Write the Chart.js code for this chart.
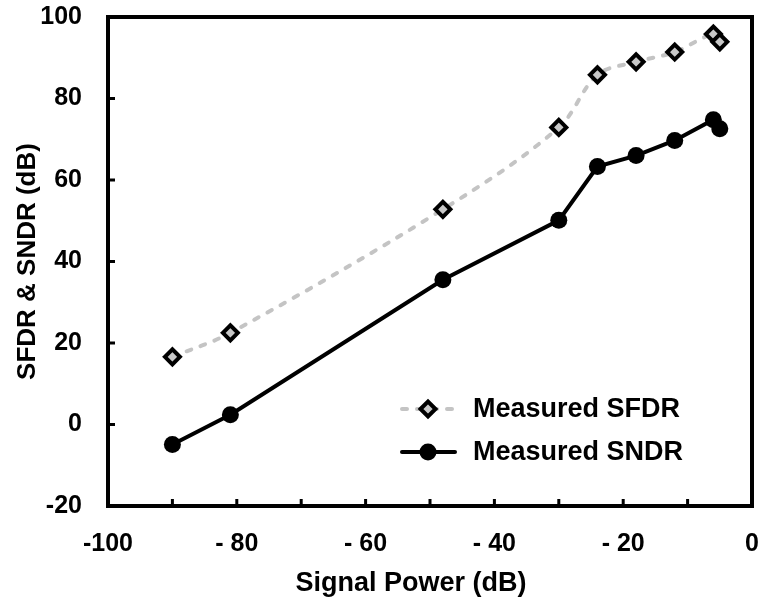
<!DOCTYPE html>
<html>
<head>
<meta charset="utf-8">
<script src="https://cdn.jsdelivr.net/npm/chart.js@4.4.1/dist/chart.umd.min.js"></script>
<style>
  body { margin: 0; background: #fff; }
  #wrap { width: 764px; height: 600px; }
</style>
</head>
<body>
<div id="wrap"><canvas id="snr-chart" width="764" height="600"></canvas></div>
<script>
// values
var signalPower = [-90, -81, -48, -30, -24, -18, -12, -6, -5];
var sfdrValues = [16.6, 22.5, 52.8, 72.9, 85.8, 89.0, 91.4, 95.8, 93.9];
var sndrValues = [-4.9, 2.4, 35.5, 50.1, 63.3, 66.0, 69.7, 74.8, 72.6];
var xTickLabels = ['-100', '- 80', '- 60', '- 40', '- 20', '0'];
var seriesLabels = ['Measured SFDR', 'Measured SNDR'];

var FONT = "'Liberation Sans', Arial, sans-serif";

function toPoints(xs, ys) {
  return xs.map(function (x, i) { return { x: x, y: ys[i] }; });
}

// box, inward ticks, x title and the legend inside the plot
var framePlugin = {
  id: 'frame',
  afterDatasetsDraw: function (chart) {
    var ctx = chart.ctx, a = chart.chartArea;
    var xs = chart.scales.x, ys = chart.scales.y;
    ctx.save();
    ctx.strokeStyle = '#000';
    ctx.lineWidth = 4;
    ctx.strokeRect(a.left, a.top, a.right - a.left, a.bottom - a.top);
    ctx.lineWidth = 3;
    ctx.beginPath();
    for (var v = -90; v < 0; v += 10) {
      var px = xs.getPixelForValue(v);
      ctx.moveTo(px, a.bottom);
      ctx.lineTo(px, a.bottom - 7);
    }
    for (var w = 0; w < 100; w += 20) {
      var py = ys.getPixelForValue(w);
      ctx.moveTo(a.left, py);
      ctx.lineTo(a.left + 7, py);
    }
    ctx.stroke();

    ctx.fillStyle = '#000';
    ctx.font = 'bold 27px ' + FONT;
    ctx.textAlign = 'center';
    ctx.textBaseline = 'middle';
    ctx.fillText('Signal Power (dB)', 411, 584);

    // legend
    var rows = [409, 452];
    chart.data.datasets.forEach(function (ds, i) {
      var y = rows[i];
      ctx.save();
      ctx.strokeStyle = ds.borderColor;
      ctx.lineWidth = ds.borderWidth;
      ctx.lineCap = 'round';
      ctx.setLineDash(ds.borderDash || []);
      ctx.beginPath();
      ctx.moveTo(402, y);
      ctx.lineTo(455, y);
      ctx.stroke();
      ctx.restore();

      ctx.save();
      ctx.fillStyle = ds.pointBackgroundColor;
      ctx.strokeStyle = ds.pointBorderColor;
      ctx.lineWidth = ds.pointBorderWidth;
      Chart.helpers.drawPoint(ctx, {
        pointStyle: ds.pointStyle,
        radius: ds.pointRadius,
        borderWidth: ds.pointBorderWidth
      }, 428, y);
      ctx.restore();

      ctx.fillStyle = '#000';
      ctx.font = 'bold 27px ' + FONT;
      ctx.textAlign = 'left';
      ctx.textBaseline = 'middle';
      ctx.fillText(ds.label, 473, y + 1);
    });
    ctx.restore();
  }
};

var ctx = document.getElementById('snr-chart').getContext('2d');
var snrChart = new Chart(ctx, {
  type: 'line',
  data: {
    datasets: [{
      label: seriesLabels[0],
      data: toPoints(signalPower, sfdrValues),
      borderColor: '#c4c4c4',
      borderWidth: 4,
      borderDash: [5, 10],
      borderCapStyle: 'round',
      tension: 0.35,
      pointStyle: 'rectRot',
      pointRadius: 7.5,
      pointBorderWidth: 4,
      pointBackgroundColor: '#c8c8c8',
      pointBorderColor: '#000'
    }, {
      label: seriesLabels[1],
      data: toPoints(signalPower, sndrValues),
      borderColor: '#000',
      borderWidth: 4,
      tension: 0,
      pointStyle: 'circle',
      pointRadius: 8.5,
      pointBorderWidth: 0,
      pointBackgroundColor: '#000',
      pointBorderColor: '#000'
    }]
  },
  options: {
    responsive: false,
    animation: false,
    events: [],
    layout: { padding: { top: 17, right: 12, left: 0, bottom: 0 } },
    plugins: { legend: { display: false }, tooltip: { enabled: false } },
    scales: {
      x: {
        type: 'linear',
        min: -100,
        max: 0,
        grid: { display: false },
        border: { display: false },
        ticks: {
          stepSize: 20,
          color: '#000',
          padding: 15,
          maxRotation: 0,
          autoSkip: false,
          font: { family: FONT, size: 25, weight: 'bold' },
          callback: function (value, index) { return xTickLabels[index]; }
        },
        afterFit: function (scale) {
          scale.height = 94;
          scale.paddingLeft = 0;
          scale.paddingRight = 0;
        }
      },
      y: {
        min: -20,
        max: 100,
        grid: { display: false },
        border: { display: false },
        title: {
          display: true,
          text: 'SFDR & SNDR (dB)',
          color: '#000',
          padding: { top: 12, bottom: 0 },
          font: { family: FONT, size: 26, weight: 'bold' }
        },
        ticks: {
          stepSize: 20,
          color: '#000',
          padding: 18,
          font: { family: FONT, size: 25, weight: 'bold' }
        },
        afterFit: function (scale) {
          scale.width = 108;
          scale.paddingTop = 0;
          scale.paddingBottom = 0;
        }
      }
    }
  },
  plugins: [framePlugin]
});
</script>
</body>
</html>
